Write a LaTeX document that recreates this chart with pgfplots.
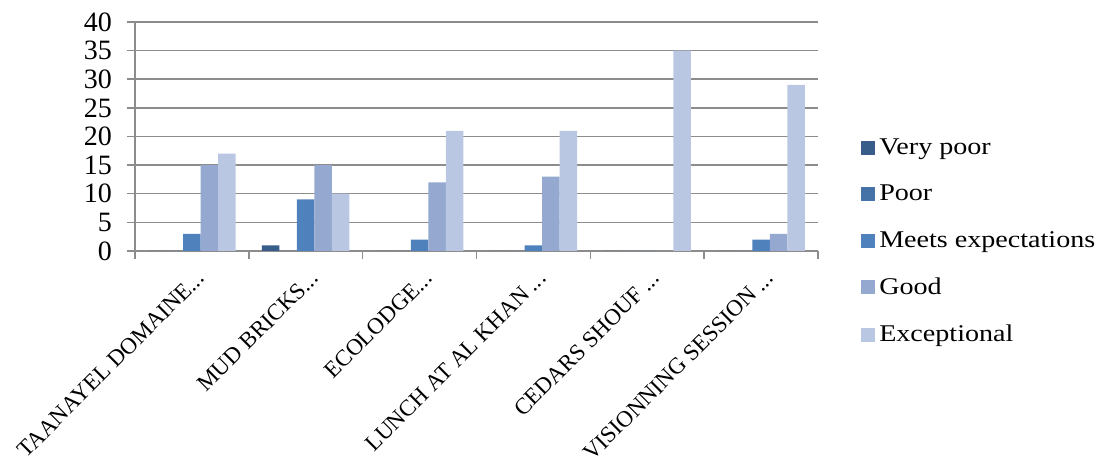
\documentclass[border=0pt]{standalone}
\usepackage{fontspec}
\setmainfont{Liberation Serif}
\newfontfamily\widefont{Liberation Serif}[FakeStretch=1.17]
\usepackage{pgfplots}
\pgfplotsset{compat=1.18}
\newcommand\eli{.\kern0pt.\kern0pt.}
\definecolor{c1}{HTML}{385D8A}
\definecolor{c2}{HTML}{4572A7}
\definecolor{c3}{HTML}{4F81BD}
\definecolor{c4}{HTML}{95A9D0}
\definecolor{c5}{HTML}{B9C7E2}
\definecolor{gridc}{HTML}{8C8C8C}
\begin{document}
\begin{tikzpicture}
\begin{axis}[
 at={(0,0)}, anchor=south west,
 scale only axis, width=341.5pt, height=114.5pt,
 ybar=0pt, bar width=8.75pt,
 xmin=0.5, xmax=6.5, ymin=0, ymax=40,
 xtick={1,2,3,4,5,6},
 xticklabels={TAANAYEL DOMAINE\eli, MUD BRICKS\eli, ECOLODGE\eli, LUNCH AT AL KHAN \eli, CEDARS SHOUF \eli, VISIONNING SESSION \eli},
 minor xtick={0.5,1.5,2.5,3.5,4.5,5.5,6.5},
 ytick={0,5,10,15,20,25,30,35,40},
 axis x line*=bottom, axis y line*=left,
 axis line style={draw=gridc, line width=0.75pt, -},
 ymajorgrids, grid style={draw=gridc, line width=0.75pt},
 major x tick style={draw=none},
 minor x tick style={draw=gridc, line width=0.75pt},
 major y tick style={draw=gridc, line width=0.75pt},
 xtick align=outside, ytick align=outside,
 major tick length=4pt, minor tick length=4pt,
 yticklabel style={font=\fontsize{14}{15}\selectfont, xshift=-4pt},
 /pgf/number format/assume math mode=true,
 xticklabel style={font=\fontsize{11.5}{13}\selectfont, rotate=45, anchor=east, xshift=1pt, yshift=-8.5pt},
 legend style={at={(1.054,0.527)}, anchor=north west, draw=none, fill=none,
   font=\widefont\fontsize{12}{14}\selectfont, row sep=9.75pt, cells={anchor=west}},
 legend image code/.code={\fill[#1] (0pt,-3.5pt) rectangle (7pt,3.5pt);},
]
\addplot[fill=c1, draw=none] coordinates {(1,0) (2,1) (3,0) (4,0) (5,0) (6,0)};
\addplot[fill=c2, draw=none] coordinates {(1,0) (2,0) (3,0) (4,0) (5,0) (6,0)};
\addplot[fill=c3, draw=none] coordinates {(1,3) (2,9) (3,2) (4,1) (5,0) (6,2)};
\addplot[fill=c4, draw=none] coordinates {(1,15) (2,15) (3,12) (4,13) (5,0) (6,3)};
\addplot[fill=c5, draw=none] coordinates {(1,17) (2,10) (3,21) (4,21) (5,35) (6,29)};
\legend{Very poor, Poor, Meets expectations, Good, Exceptional}
\end{axis}
\pgfresetboundingbox
\useasboundingbox (-67.5pt,-104pt) rectangle (483.5pt,125.5pt);
\end{tikzpicture}
\end{document}
